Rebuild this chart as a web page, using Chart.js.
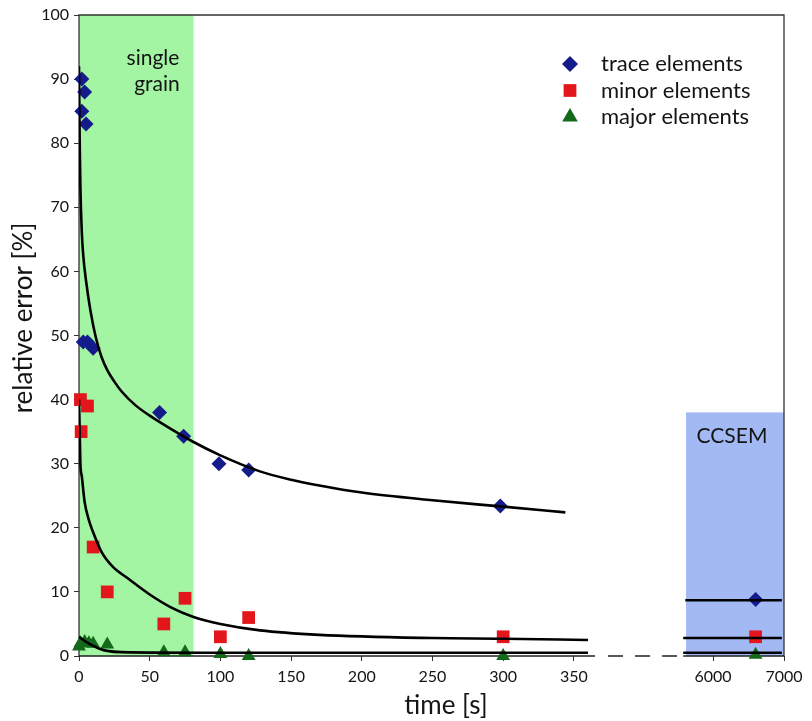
<!DOCTYPE html>
<html lang="en">
<head>
  <meta charset="UTF-8">
  <title>Relative error vs. measuring time</title>
  <script src="https://cdn.jsdelivr.net/npm/chart.js"></script>
  <style>
    html, body { margin: 0; padding: 0; background: #fff; }
    #wrap { width: 812px; height: 721px; position: relative; }
  </style>
</head>
<body>
  <div id="wrap"><canvas id="errChart"></canvas></div>

  <script>
    // measured points (time [s], relative error [%])
    var traceT   = [2, 4, 2, 5, 3, 6, 10, 57, 74, 99, 120, 298, 6600];
    var traceErr = [90, 88, 85, 83, 49, 49, 48, 38, 34.3, 30, 29, 23.4, 8.8];
    var minorT   = [1, 6, 1.5, 10, 20, 60, 75, 100, 120, 300, 6600];
    var minorErr = [40, 39, 35, 17, 10, 5, 9, 3, 6, 3, 3];
    var majorT   = [0, 1, 4, 7, 10, 20, 60, 75, 100, 120, 300, 6600];
    var majorErr = [1.5, 2, 2.2, 2, 1.9, 1.8, 0.6, 0.6, 0.3, 0, 0, 0.2];

    // fitted curves
    var traceFitT   = [0, 0.5, 1, 2, 3, 5, 8, 12, 16, 20, 25, 30, 40, 50, 60, 80, 100, 128, 150, 170, 200, 250, 300, 344];
    var traceFitErr = [92, 80, 73, 66, 62.5, 58.5, 54, 49.6, 46.6, 44.6, 42.8, 41.3, 39.1, 37.5, 36.1, 33.5, 31.3, 28.8, 27.5, 26.6, 25.5, 24.3, 23.3, 22.4];
    var minorFitT   = [0, 0.5, 1, 2, 4, 7, 10, 16, 24, 34, 50, 65, 81, 100, 128, 170, 250, 300, 360];
    var minorFitErr = [40, 35, 30, 28, 24, 21.2, 19.3, 16.2, 13.9, 12.2, 9.6, 7.6, 6.1, 5, 4, 3.3, 2.8, 2.7, 2.5];
    var majorFitT   = [0, 5, 10, 15, 20, 30, 100, 360];
    var majorFitErr = [3, 2.2, 1.6, 1.1, 0.8, 0.6, 0.5, 0.5];

    // CCSEM levels
    var ccsemTraceT = [5610, 6970], ccsemTraceErr = [8.7, 8.7];
    var ccsemMinorT = [5580, 6970], ccsemMinorErr = [2.8, 2.8];
    var ccsemMajorT = [5580, 6970], ccsemMajorErr = [0.5, 0.5];

    // shaded ranges [from, to] in seconds, with top in %
    var grainSpan = [0, 81], grainTop = 100;
    var ccsemSpan = [5620, 7000], ccsemTop = 38;

    // axis
    var xTicks = [0, 50, 100, 150, 200, 250, 300, 350, 6000, 7000];
    var yTicks = [0, 10, 20, 30, 40, 50, 60, 70, 80, 90, 100];
    var xSegments = [[0, 365], [5580, 7000]];

    var labelFont = 'Lato, "DejaVu Sans", sans-serif';
    var ink = '#141414';

    function pts(xs, ys) {
      return xs.map(function (v, i) { return { x: v, y: ys[i] }; });
    }

    // linear axis with a gap between the two segments
    var SEG1 = 0.732, SEG2 = 0.857;
    class BrokenScale extends Chart.LinearScale {
      getPixelForValue(v) {
        var a = xSegments[0], b = xSegments[1], f;
        if (v <= a[1]) f = (v - a[0]) / (a[1] - a[0]) * SEG1;
        else if (v >= b[0]) f = SEG2 + (v - b[0]) / (b[1] - b[0]) * (1 - SEG2);
        else f = SEG1 + (v - a[1]) / (b[0] - a[1]) * (SEG2 - SEG1);
        return this.left + f * this.width;
      }
      getValueForPixel(p) {
        var a = xSegments[0], b = xSegments[1];
        var f = (p - this.left) / this.width;
        if (f <= SEG1) return a[0] + f / SEG1 * (a[1] - a[0]);
        if (f >= SEG2) return b[0] + (f - SEG2) / (1 - SEG2) * (b[1] - b[0]);
        return a[1] + (f - SEG1) / (SEG2 - SEG1) * (b[0] - a[1]);
      }
    }
    BrokenScale.id = 'broken';
    BrokenScale.defaults = Chart.LinearScale.defaults;
    Chart.register(BrokenScale);

    var legendItems = [
      { text: 'trace elements', style: 'rectRot', radius: 8, color: '#141c8c' },
      { text: 'minor elements', style: 'rect', radius: 9, color: '#e3161b' },
      { text: 'major elements', style: 'triangle', radius: 9, color: '#15691a' }
    ];

    var framePlugin = {
      id: 'frame',
      beforeDatasetsDraw: function (chart) {
        var ctx = chart.ctx, a = chart.chartArea, x = chart.scales.x, y = chart.scales.y;
        ctx.save();
        // shaded ranges
        ctx.fillStyle = '#a3f4a3';
        ctx.fillRect(x.getPixelForValue(grainSpan[0]), y.getPixelForValue(grainTop),
          x.getPixelForValue(grainSpan[1]) - x.getPixelForValue(grainSpan[0]),
          y.getPixelForValue(0) - y.getPixelForValue(grainTop));
        ctx.fillStyle = '#a3b9f4';
        ctx.fillRect(x.getPixelForValue(ccsemSpan[0]), y.getPixelForValue(ccsemTop),
          x.getPixelForValue(ccsemSpan[1]) - x.getPixelForValue(ccsemSpan[0]),
          y.getPixelForValue(0) - y.getPixelForValue(ccsemTop));

        // frame (left, top, right)
        ctx.strokeStyle = '#333';
        ctx.lineWidth = 1.3;
        ctx.beginPath();
        ctx.moveTo(a.left, a.bottom);
        ctx.lineTo(a.left, a.top);
        ctx.lineTo(a.right, a.top);
        ctx.lineTo(a.right, a.bottom);
        ctx.stroke();

        // broken x axis
        ctx.strokeStyle = '#222';
        ctx.lineWidth = 1.6;
        xSegments.forEach(function (s) {
          ctx.beginPath();
          ctx.moveTo(x.getPixelForValue(s[0]), a.bottom);
          ctx.lineTo(x.getPixelForValue(s[1]), a.bottom);
          ctx.stroke();
        });
        ctx.setLineDash([15, 12]);
        ctx.beginPath();
        ctx.moveTo(x.getPixelForValue(xSegments[0][1]) + 13, a.bottom);
        ctx.lineTo(x.getPixelForValue(xSegments[1][0]) - 6, a.bottom);
        ctx.stroke();
        ctx.restore();
      },
      afterDatasetsDraw: function (chart) {
        var ctx = chart.ctx;
        ctx.save();
        ctx.fillStyle = ink;
        ctx.textAlign = 'center';
        ctx.textBaseline = 'middle';
        ctx.font = '21px ' + labelFont;
        ctx.fillText('single', 153, 58);
        ctx.fillText('grain', 157, 84);
        ctx.fillText('CCSEM', 732, 436);

        // axis titles
        ctx.font = '26px ' + labelFont;
        ctx.fillText('time [s]', 446, 706);
        ctx.save();
        ctx.translate(24, 318);
        ctx.rotate(-Math.PI / 2);
        ctx.fillText('relative error [%]', 0, 0);
        ctx.restore();

        // legend
        ctx.font = '22px ' + labelFont;
        ctx.textAlign = 'left';
        legendItems.forEach(function (it, i) {
          var cy = 64 + i * 26.5;
          ctx.fillStyle = it.color;
          Chart.helpers.drawPoint(ctx, { pointStyle: it.style, radius: it.radius, rotation: 0, borderWidth: 0 }, 570, cy);
          ctx.fillStyle = ink;
          ctx.fillText(it.text, 601, cy);
        });
        ctx.restore();
      }
    };

    function markerSet(label, xs, ys, style, radius, color) {
      return {
        label: label, data: pts(xs, ys), pointStyle: style, pointRadius: radius,
        backgroundColor: color, borderColor: color, pointBorderWidth: 0,
        showLine: false, clip: false, order: 2
      };
    }
    function fitLine(xs, ys) {
      return {
        data: pts(xs, ys), showLine: true, pointRadius: 0, borderColor: '#000',
        borderWidth: 2.6, cubicInterpolationMode: 'monotone', fill: false, order: 1
      };
    }

    var ctx = document.getElementById('errChart').getContext('2d');
    new Chart(ctx, {
      type: 'scatter',
      data: {
        datasets: [
          markerSet('trace elements', traceT, traceErr, 'rectRot', 7.5, '#141c8c'),
          markerSet('minor elements', minorT, minorErr, 'rect', 9, '#e3161b'),
          markerSet('major elements', majorT, majorErr, 'triangle', 8, '#15691a'),
          fitLine(traceFitT, traceFitErr),
          fitLine(minorFitT, minorFitErr),
          fitLine(majorFitT, majorFitErr),
          fitLine(ccsemTraceT, ccsemTraceErr),
          fitLine(ccsemMinorT, ccsemMinorErr),
          fitLine(ccsemMajorT, ccsemMajorErr)
        ]
      },
      options: {
        responsive: true,
        maintainAspectRatio: false,
        animation: false,
        layout: { padding: { left: 0, top: 15, right: 28, bottom: 0 } },
        plugins: { legend: { display: false }, tooltip: { enabled: false } },
        scales: {
          x: {
            type: 'broken',
            min: 0,
            max: 7000,
            afterBuildTicks: function (s) { s.ticks = xTicks.map(function (v) { return { value: v }; }); },
            afterFit: function (s) { s.height = 65; },
            border: { display: false },
            grid: { drawOnChartArea: false, drawTicks: true, tickLength: 5, color: '#333' },
            ticks: {
              autoSkip: false, maxRotation: 0, padding: 6, color: ink,
              font: { family: labelFont, size: 16 },
              callback: function (v) { return String(v); }
            }
          },
          y: {
            min: 0,
            max: 100,
            afterBuildTicks: function (s) { s.ticks = yTicks.map(function (v) { return { value: v }; }); },
            afterFit: function (s) { s.width = 79; },
            border: { display: false },
            grid: { drawOnChartArea: false, drawTicks: true, tickLength: 5, color: '#333' },
            ticks: {
              padding: 5, color: ink,
              font: { family: labelFont, size: 16 },
              callback: function (v) { return String(v); }
            }
          }
        }
      },
      plugins: [framePlugin]
    });
  </script>
</body>
</html>
